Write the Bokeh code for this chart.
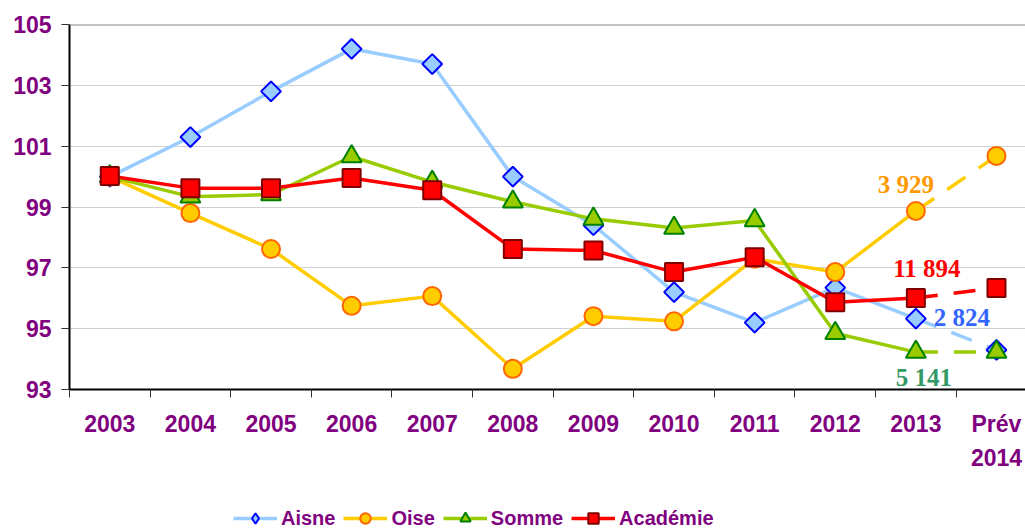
import numpy as np
from bokeh.plotting import figure
from bokeh.layouts import column
from bokeh.models import (Range1d, FixedTicker, Legend, LegendItem, Span,
                          ColumnDataSource, LinearAxis)
from bokeh.core.properties import value
from bokeh.embed import file_html
from bokeh.resources import INLINE

# ---------------- data ----------------
categories = ["2003", "2004", "2005", "2006", "2007", "2008", "2009", "2010",
              "2011", "2012", "2013", "Prév 2014"]
aisne = [100.0, 101.3, 102.8, 104.2, 103.7, 100.0, 98.4, 96.2, 95.2, 96.35, 95.33, 94.3]
oise = [100.0, 98.8, 97.62, 95.75, 96.07, 93.68, 95.41, 95.24, 97.3, 96.86, 98.87, 100.68]
somme = [100.0, 99.34, 99.41, 100.66, 99.82, 99.17, 98.61, 98.31, 98.56, 94.85, 94.23, 94.23]
academie = [100.02, 99.62, 99.62, 99.95, 99.55, 97.62, 97.57, 96.86, 97.35, 95.87, 96.01, 96.34]
y_ticks = [93, 95, 97, 99, 101, 103, 105]
series_names = ["Aisne", "Oise", "Somme", "Académie"]
annot_text = ["3 929", "11 894", "2 824", "5 141"]

# ---------------- styles ----------------
PURPLE = "#800080"
line_colors = ["#99CCFF", "#FFCC00", "#99CC00", "#FF0000"]
fill_colors = ["#99CCFF", "#FFCC00", "#99CC00", "#FF0000"]
edge_colors = ["#0000FF", "#FF6600", "#008000", "#800000"]
markers = ["square", "circle", "triangle", "square"]
legend_markers = ["diamond", "circle", "triangle", "square"]
sizes = [14, 18, 20, 18]
angles = [np.pi / 4, 0, 0, 0]
annot_colors = ["#FF9900", "#FF0000", "#3366FF", "#339966"]
annot_series = [1, 3, 0, 2]
annot_dx = [-10, 11, 46, 8]
annot_dy = [-26, -29, -1, 25]

n = len(categories)
xs = list(range(n))
first_line = {i: c.split(" ")[0] for i, c in enumerate(categories)}
second_line = {i: c.split(" ")[1] for i, c in enumerate(categories) if " " in c}

LABEL_FONT = "Liberation Sans"

p = figure(width=1025, height=486, output_backend="svg", toolbar_location=None,
           x_range=Range1d(-0.5, 11.36), y_range=Range1d(93, 105),
           min_border_left=69, min_border_right=0, min_border_top=24,
           min_border_bottom=97, background_fill_color="white",
           border_fill_color="white")
p.outline_line_color = None
p.xgrid.visible = False
p.ygrid.grid_line_color = "#D0D0D0"
p.ygrid.grid_line_width = 1

# y axis
p.yaxis.ticker = FixedTicker(ticks=y_ticks)
p.yaxis.axis_line_color = "black"
p.yaxis.axis_line_width = 2
p.yaxis.major_tick_out = 8
p.yaxis.major_tick_in = 0
p.yaxis.minor_tick_out = 0
p.yaxis.minor_tick_in = 0
p.yaxis.major_tick_line_color = "#333333"
p.yaxis.major_label_standoff = 10
p.yaxis.major_label_text_font = LABEL_FONT
p.yaxis.major_label_text_font_style = "bold"
p.yaxis.major_label_text_font_size = "23px"
p.yaxis.major_label_text_color = PURPLE

# x axis (first label line)
xa = p.xaxis[0]
xa.ticker = FixedTicker(ticks=xs, minor_ticks=[i - 0.5 for i in range(n + 1)])
xa.major_label_overrides = first_line
xa.axis_line_color = "black"
xa.axis_line_width = 2
xa.major_tick_out = 8
xa.major_tick_in = 0
xa.major_tick_line_color = None
xa.minor_tick_out = 8
xa.minor_tick_in = 0
xa.minor_tick_line_color = "#333333"
xa.major_label_standoff = 13
xa.major_label_text_font = LABEL_FONT
xa.major_label_text_font_style = "bold"
xa.major_label_text_font_size = "23px"
xa.major_label_text_color = PURPLE

# second label line ("2014" under "Prév")
xa2 = LinearAxis(ticker=FixedTicker(ticks=list(second_line.keys())),
                 major_label_overrides=second_line,
                 axis_line_color=None, major_tick_line_color=None,
                 minor_tick_line_color=None, major_tick_out=0, major_tick_in=0,
                 minor_tick_out=0, minor_tick_in=0, major_label_standoff=9,
                 major_label_text_font=LABEL_FONT, major_label_text_font_style="bold",
                 major_label_text_font_size="23px", major_label_text_color=PURPLE)
p.add_layout(xa2, "below")

# top border
p.add_layout(Span(location=y_ticks[-1], dimension="width", line_color="#888888",
                  line_width=2))

all_series = [aisne, oise, somme, academie]
for k, (name, vals) in enumerate(zip(series_names, all_series)):
    p.line(xs[:n - 1], vals[:n - 1], line_color=line_colors[k], line_width=3.5)
    p.line(xs[n - 2:], vals[n - 2:], line_color=line_colors[k], line_width=3.5,
           line_dash="22 16")
    p.scatter(xs, vals, marker=markers[k], size=sizes[k], angle=angles[k],
              fill_color=fill_colors[k], line_color=edge_colors[k], line_width=2)

# annotations at 2013 values
src = ColumnDataSource(dict(
    x=[xs[n - 2]] * len(annot_text),
    y=[all_series[s][n - 2] for s in annot_series],
    text=annot_text, color=annot_colors, dx=annot_dx, dy=annot_dy))
p.text(x="x", y="y", text="text", source=src, text_color="color",
       x_offset="dx", y_offset="dy", text_align="center", text_baseline="middle",
       text_font=value("Liberation Serif"), text_font_style="bold",
       text_font_size="25px")

# ---------------- legend strip ----------------
# the series are drawn again here, outside the visible range, only to feed the legend
lg = figure(width=1025, height=45, output_backend="svg", toolbar_location=None,
            x_range=Range1d(-300, -299), y_range=Range1d(-300, -299),
            x_axis_location=None, y_axis_location=None,
            min_border_left=0, min_border_right=0, min_border_top=0,
            min_border_bottom=0, background_fill_color="white",
            border_fill_color="white")
lg.outline_line_color = None
lg.grid.visible = False
items = []
for k, (name, vals) in enumerate(zip(series_names, all_series)):
    lr = lg.line(xs, vals, line_color=line_colors[k], line_width=3.5)
    sr = lg.scatter(xs, vals, marker=legend_markers[k],
                    fill_color=fill_colors[k], line_color=edge_colors[k], line_width=2)
    items.append(LegendItem(label=name, renderers=[lr, sr]))

legend = Legend(items=items, orientation="horizontal", location=(164, 0),
                border_line_color=None, background_fill_alpha=0,
                label_text_font=LABEL_FONT, label_text_font_style="bold",
                label_text_font_size="20px", label_text_color=PURPLE,
                glyph_width=44, glyph_height=26, spacing=8, label_standoff=4,
                padding=0, margin=0)
lg.add_layout(legend)

layout = column(p, lg, spacing=0)
open("out.html", "w").write(file_html(layout, INLINE))
